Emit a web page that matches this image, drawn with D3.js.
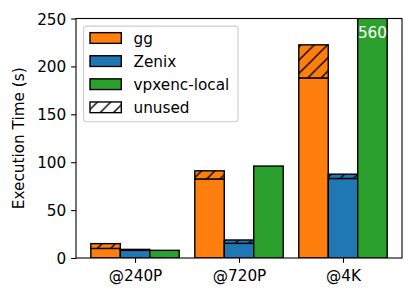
<!DOCTYPE html>
<html>
<head>
<meta charset="utf-8">
<script src="https://cdn.jsdelivr.net/npm/d3@7"></script>
<style>
  html, body { margin: 0; padding: 0; background: #fff; }
  svg { display: block; font-family: "DejaVu Sans", sans-serif; }
</style>
</head>
<body>
<svg id="chart" width="415" height="298"></svg>
<script>
const categories = ["@240P", "@720P", "@4K"];
const ggUsed      = [10, 82.5, 188];
const ggUnused    = [5, 8.5, 34.5];
const zenixUsed   = [8, 15.3, 83];
const zenixUnused = [1, 3.5, 4.5];
const vpxencLocal = [8, 96, 560];
const yTicks = [0, 50, 100, 150, 200, 250];
const seriesNames = ["gg", "Zenix", "vpxenc-local"];
const colors = ["#ff7f0e", "#1f77b4", "#2ca02c"];

const svg = d3.select("#chart");
const L = 76, R = 402, T = 18.5, B = 258;
const fs = 15.28;
const w = 0.85 / 3;

const x = d3.scaleLinear().domain([-0.5675, 2.5675]).range([L, R]);
const y = d3.scaleLinear().domain([0, 250]).range([B, T]);

const defs = svg.append("defs");
defs.append("clipPath").attr("id", "plotclip")
  .append("rect").attr("x", L).attr("y", T).attr("width", R - L).attr("height", B - T);

const hs = 13.3;
function hatch(id, fill) {
  const p = defs.append("pattern").attr("id", id)
    .attr("patternUnits", "userSpaceOnUse").attr("width", hs).attr("height", hs);
  p.append("rect").attr("width", hs).attr("height", hs).attr("fill", fill);
  p.append("path")
    .attr("d", `M0,${hs} L${hs},0 M-2,2 L2,-2 M${hs-2},${hs+2} L${hs+2},${hs-2}`)
    .attr("stroke", "#000").attr("stroke-width", 1.4).attr("fill", "none");
}
hatch("h0", colors[0]);
hatch("h1", colors[1]);
hatch("h2", colors[2]);
hatch("hw", "#fff");

// build segments
const segs = [];
categories.forEach((c, gi) => {
  segs.push({ g: gi, s: 0, y0: 0, y1: ggUsed[gi], fill: colors[0] });
  segs.push({ g: gi, s: 0, y0: ggUsed[gi], y1: ggUsed[gi] + ggUnused[gi], fill: "url(#h0)" });
  segs.push({ g: gi, s: 1, y0: 0, y1: zenixUsed[gi], fill: colors[1] });
  segs.push({ g: gi, s: 1, y0: zenixUsed[gi], y1: zenixUsed[gi] + zenixUnused[gi], fill: "url(#h1)" });
  segs.push({ g: gi, s: 2, y0: 0, y1: vpxencLocal[gi], fill: colors[2] });
});

const plot = svg.append("g").attr("clip-path", "url(#plotclip)");
plot.selectAll("rect.bar").data(segs).enter().append("rect")
  .attr("class", "bar")
  .attr("x", d => x(d.g + (d.s - 1) * w - w / 2))
  .attr("width", d => x(w) - x(0))
  .attr("y", d => y(d.y1))
  .attr("height", d => y(d.y0) - y(d.y1))
  .attr("fill", d => d.fill)
  .attr("stroke", "#000")
  .attr("stroke-width", 1.4);

// clipped value label
categories.forEach((c, gi) => {
  if (vpxencLocal[gi] > 250) {
    svg.append("text")
      .attr("x", x(gi + w))
      .attr("y", 37.5)
      .attr("text-anchor", "middle")
      .attr("fill", "#fff")
      .attr("font-size", fs)
      .text(vpxencLocal[gi]);
  }
});

// axes
const yAxis = svg.append("g").attr("transform", `translate(${L},0)`)
  .call(d3.axisLeft(y).tickValues(yTicks).tickSize(4.86).tickPadding(4.86).tickSizeOuter(0));
yAxis.select(".domain").remove();
yAxis.selectAll("line").attr("stroke", "#000").attr("stroke-width", 1.1);
yAxis.selectAll("text").attr("font-size", fs).attr("font-family", "DejaVu Sans").attr("fill", "#000").attr("dy", "0.36em");

const xAxis = svg.append("g").attr("transform", `translate(0,${B})`)
  .call(d3.axisBottom(x).tickValues([0, 1, 2]).tickFormat(i => categories[i]).tickSize(4.86).tickPadding(4.86).tickSizeOuter(0));
xAxis.select(".domain").remove();
xAxis.selectAll("line").attr("stroke", "#000").attr("stroke-width", 1.1);
xAxis.selectAll("text").attr("font-size", fs).attr("font-family", "DejaVu Sans").attr("fill", "#000").attr("dy", "0.9em");

// spines
svg.append("rect").attr("x", L).attr("y", T).attr("width", R - L).attr("height", B - T)
  .attr("fill", "none").attr("stroke", "#000").attr("stroke-width", 1.1);

// y label
svg.append("text")
  .attr("transform", `translate(23.8,${(T + B) / 2}) rotate(-90)`)
  .attr("text-anchor", "middle")
  .attr("font-size", fs)
  .text("Execution Time (s)");

// legend
const lg = svg.append("g");
lg.append("rect").attr("x", 83.6).attr("y", 26.1).attr("width", 154.4).attr("height", 95.6)
  .attr("rx", 3).attr("ry", 3)
  .attr("fill", "#fff").attr("fill-opacity", 0.8)
  .attr("stroke", "#cccccc").attr("stroke-width", 1.1);
const legendItems = seriesNames.map((n, i) => ({ name: n, fill: colors[i] }))
  .concat([{ name: "unused", fill: "url(#hw)" }]);
const rowC = [38, 61.1, 84.2, 107.3];
legendItems.forEach((d, i) => {
  lg.append("rect").attr("x", 90).attr("y", rowC[i] - 5.35).attr("width", 31.3).attr("height", 10.7)
    .attr("fill", d.fill).attr("stroke", "#000").attr("stroke-width", 1.4);
  lg.append("text").attr("x", 133.5).attr("y", rowC[i] + 5.6)
    .attr("font-size", fs).text(d.name);
});
</script>
</body>
</html>
